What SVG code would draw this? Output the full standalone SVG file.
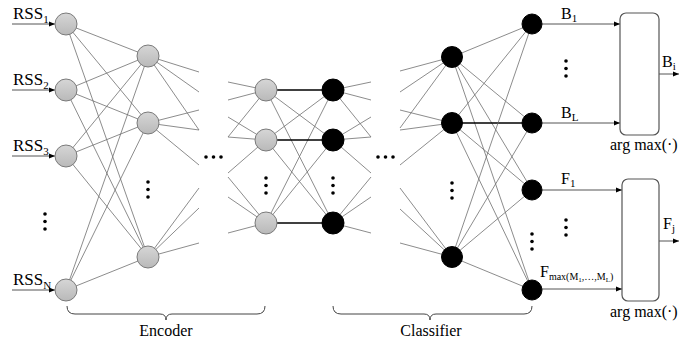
<svg xmlns="http://www.w3.org/2000/svg" width="697" height="347" viewBox="0 0 697 347">
<style>
text{font-family:"Liberation Serif","Times New Roman",serif;fill:#000}
.t{font-size:17px}
.s{font-size:16px}
.sub{font-size:11px}
.ss{font-size:10px}
.sss{font-size:7px}
.ln line{stroke:#6e6e6e;stroke-width:0.8}
.ln line.h{stroke:#000;stroke-width:1.3}
.arr line{stroke:#555;stroke-width:1}
.g{fill:url(#gg);stroke:#7a7a7a;stroke-width:1}
.b{fill:#000;stroke:#000;stroke-width:1}
.box{fill:#fff;stroke:#555;stroke-width:1.2}
.brace{fill:none;stroke:#444;stroke-width:1}
</style>
<defs>
<linearGradient id="gg" x1="0" y1="0" x2="0" y2="1">
<stop offset="0" stop-color="#d6d6d6"/>
<stop offset="1" stop-color="#b9b9b9"/>
</linearGradient>
<marker id="ah" viewBox="0 0 10 10" refX="10" refY="5" markerWidth="6" markerHeight="6" markerUnits="userSpaceOnUse" orient="auto">
<path d="M0,1 L10,5 L0,9 z" fill="#000"/>
</marker>
<g id="vd"><circle cx="0" cy="0" r="1.8"/><circle cx="0" cy="7.5" r="1.8"/><circle cx="0" cy="15" r="1.8"/></g>
<g id="hd"><circle cx="0" cy="0" r="1.8"/><circle cx="7.5" cy="0" r="1.8"/><circle cx="15" cy="0" r="1.8"/></g>
</defs>
<rect width="697" height="347" fill="#fff"/>

<g id="connectors">
<g class="ln">
<!-- layer1 -> layer2 -->
<line x1="66" y1="24" x2="148" y2="56"/><line x1="66" y1="24" x2="148" y2="123"/><line x1="66" y1="24" x2="148" y2="257"/>
<line x1="66" y1="90" x2="148" y2="56"/><line x1="66" y1="90" x2="148" y2="123"/><line x1="66" y1="90" x2="148" y2="257"/>
<line x1="66" y1="156" x2="148" y2="56"/><line x1="66" y1="156" x2="148" y2="123"/><line x1="66" y1="156" x2="148" y2="257"/>
<line x1="66" y1="290" x2="148" y2="56"/><line x1="66" y1="290" x2="148" y2="123"/><line x1="66" y1="290" x2="148" y2="257"/>
<!-- layer2 fan-out -->
<line x1="148" y1="56" x2="199" y2="72"/><line x1="148" y1="56" x2="199" y2="92"/><line x1="148" y1="56" x2="199" y2="130"/>
<line x1="148" y1="123" x2="199" y2="110"/><line x1="148" y1="123" x2="199" y2="130"/><line x1="148" y1="123" x2="199" y2="165"/>
<line x1="148" y1="257" x2="199" y2="188"/><line x1="148" y1="257" x2="199" y2="208"/><line x1="148" y1="257" x2="199" y2="243"/>
<!-- layer3 fan-in -->
<line x1="228" y1="82" x2="266" y2="90"/><line x1="228" y1="100" x2="266" y2="90"/><line x1="228" y1="137" x2="266" y2="90"/>
<line x1="228" y1="117" x2="266" y2="140"/><line x1="228" y1="137" x2="266" y2="140"/><line x1="228" y1="173" x2="266" y2="140"/>
<line x1="228" y1="177" x2="266" y2="223"/><line x1="228" y1="197" x2="266" y2="223"/><line x1="228" y1="233" x2="266" y2="223"/>
<!-- layer3 -> layer4 -->
<line x1="266" y1="90" x2="333" y2="140"/><line x1="266" y1="90" x2="333" y2="223"/>
<line x1="266" y1="140" x2="333" y2="90"/><line x1="266" y1="140" x2="333" y2="223"/>
<line x1="266" y1="223" x2="333" y2="90"/><line x1="266" y1="223" x2="333" y2="140"/>
<line class="h" x1="266" y1="90" x2="333" y2="90"/><line class="h" x1="266" y1="140" x2="333" y2="140"/><line class="h" x1="266" y1="223" x2="333" y2="223"/>
<!-- layer4 fan-out -->
<line x1="333" y1="90" x2="371" y2="82"/><line x1="333" y1="90" x2="371" y2="100"/><line x1="333" y1="90" x2="371" y2="137"/>
<line x1="333" y1="140" x2="371" y2="117"/><line x1="333" y1="140" x2="371" y2="137"/><line x1="333" y1="140" x2="371" y2="173"/>
<line x1="333" y1="223" x2="371" y2="177"/><line x1="333" y1="223" x2="371" y2="197"/><line x1="333" y1="223" x2="371" y2="233"/>
<!-- layer5 fan-in -->
<line x1="400" y1="71" x2="452" y2="57"/><line x1="400" y1="92" x2="452" y2="57"/><line x1="400" y1="128" x2="452" y2="57"/>
<line x1="400" y1="110" x2="452" y2="123"/><line x1="400" y1="130" x2="452" y2="123"/><line x1="400" y1="165" x2="452" y2="123"/>
<line x1="400" y1="188" x2="452" y2="257"/><line x1="400" y1="209" x2="452" y2="257"/><line x1="400" y1="243" x2="452" y2="257"/>
<!-- layer5 -> layer6 -->
<line x1="452" y1="57" x2="532" y2="24"/><line x1="452" y1="57" x2="532" y2="123"/><line x1="452" y1="57" x2="532" y2="190"/><line x1="452" y1="57" x2="532" y2="290"/>
<line x1="452" y1="123" x2="532" y2="24"/><line class="h" x1="452" y1="123" x2="532" y2="123"/><line x1="452" y1="123" x2="532" y2="190"/><line x1="452" y1="123" x2="532" y2="290"/>
<line x1="452" y1="257" x2="532" y2="24"/><line x1="452" y1="257" x2="532" y2="123"/><line x1="452" y1="257" x2="532" y2="190"/><line x1="452" y1="257" x2="532" y2="290"/>
</g>
<g class="arr">
<line x1="12" y1="24" x2="55" y2="24" marker-end="url(#ah)"/>
<line x1="12" y1="90" x2="55" y2="90" marker-end="url(#ah)"/>
<line x1="12" y1="156" x2="55" y2="156" marker-end="url(#ah)"/>
<line x1="12" y1="290" x2="55" y2="290" marker-end="url(#ah)"/>
<line x1="542" y1="24" x2="620" y2="24" marker-end="url(#ah)"/>
<line x1="542" y1="123" x2="620" y2="123" marker-end="url(#ah)"/>
<line x1="542" y1="190" x2="622" y2="190" marker-end="url(#ah)"/>
<line x1="542" y1="289" x2="622" y2="289" marker-end="url(#ah)"/>
<line x1="659" y1="74" x2="679" y2="74" marker-end="url(#ah)"/>
<line x1="659" y1="241" x2="679" y2="241" marker-end="url(#ah)"/>
</g>
</g>

<g id="input-layer">
<circle class="g" cx="66" cy="24" r="11"/>
<circle class="g" cx="66" cy="90" r="11"/>
<circle class="g" cx="66" cy="156" r="11"/>
<circle class="g" cx="66" cy="290" r="11"/>
<use href="#vd" x="45" y="214"/>
<text class="t" x="13" y="19">RSS<tspan class="sub" dy="4">1</tspan></text>
<text class="t" x="13" y="85">RSS<tspan class="sub" dy="4">2</tspan></text>
<text class="t" x="13" y="151">RSS<tspan class="sub" dy="4">3</tspan></text>
<text class="t" x="13" y="285">RSS<tspan class="sub" dy="4">N</tspan></text>
</g>
<g id="encoder-layer2">
<circle class="g" cx="148" cy="56" r="11"/>
<circle class="g" cx="148" cy="123" r="11"/>
<circle class="g" cx="148" cy="257" r="11"/>
<use href="#vd" x="148" y="182"/>
</g>
<use href="#hd" x="206" y="157"/>
<g id="encoder-layer3">
<circle class="g" cx="266" cy="90" r="11"/>
<circle class="g" cx="266" cy="140" r="11"/>
<circle class="g" cx="266" cy="223" r="11"/>
<use href="#vd" x="266" y="178"/>
</g>
<g id="classifier-layer1">
<circle class="b" cx="333" cy="90" r="11"/>
<circle class="b" cx="333" cy="140" r="11"/>
<circle class="b" cx="333" cy="223" r="11"/>
<use href="#vd" x="333" y="178"/>
</g>
<use href="#hd" x="378" y="157"/>
<g id="classifier-layer2">
<circle class="b" cx="452" cy="57" r="10.5"/>
<circle class="b" cx="452" cy="123" r="10.5"/>
<circle class="b" cx="452" cy="257" r="10.5"/>
<use href="#vd" x="452" y="183"/>
</g>
<g id="output-layer">
<circle class="b" cx="532" cy="24" r="10"/>
<circle class="b" cx="532" cy="123" r="10"/>
<circle class="b" cx="532" cy="190" r="10"/>
<circle class="b" cx="532" cy="290" r="10"/>
<use href="#vd" x="532" y="234"/>
<use href="#vd" x="566" y="61"/>
<use href="#vd" x="566" y="220"/>
<text class="s" x="561" y="19">B<tspan class="sub" dy="3">1</tspan></text>
<text class="s" x="561" y="118">B<tspan class="sub" dy="3">L</tspan></text>
<text class="s" x="561" y="184">F<tspan class="sub" dy="3">1</tspan></text>
<text class="s" x="540" y="277">F<tspan class="ss" dy="3">max(M<tspan class="sss" dy="2">1</tspan><tspan dy="-2">,…,M</tspan><tspan class="sss" dy="2">L</tspan><tspan dy="-2">)</tspan></tspan></text>
</g>
<g id="argmax-B">
<rect class="box" x="620" y="13" width="39" height="122" rx="6"/>
<text class="s" x="610" y="150">arg max(·)</text>
<text class="s" x="662" y="67">B<tspan class="sub" dy="3">i</tspan></text>
</g>
<g id="argmax-F">
<rect class="box" x="622" y="179" width="37" height="122" rx="6"/>
<text class="s" x="610" y="317">arg max(·)</text>
<text class="s" x="663" y="229">F<tspan class="sub" dy="3">j</tspan></text>
</g>
<g id="encoder-brace">
<path class="brace" d="M67,306 Q67,314 75,314 L160,314 Q166,314 166,320 Q166,314 172,314 L257,314 Q265,314 265,306"/>
<text class="s" x="166" y="336" text-anchor="middle">Encoder</text>
</g>
<g id="classifier-brace">
<path class="brace" d="M333,306 Q333,314 341,314 L424,314 Q430,314 430,320 Q430,314 436,314 L524,314 Q532,314 532,306"/>
<text class="s" x="431" y="336" text-anchor="middle">Classifier</text>
</g>
</svg>
